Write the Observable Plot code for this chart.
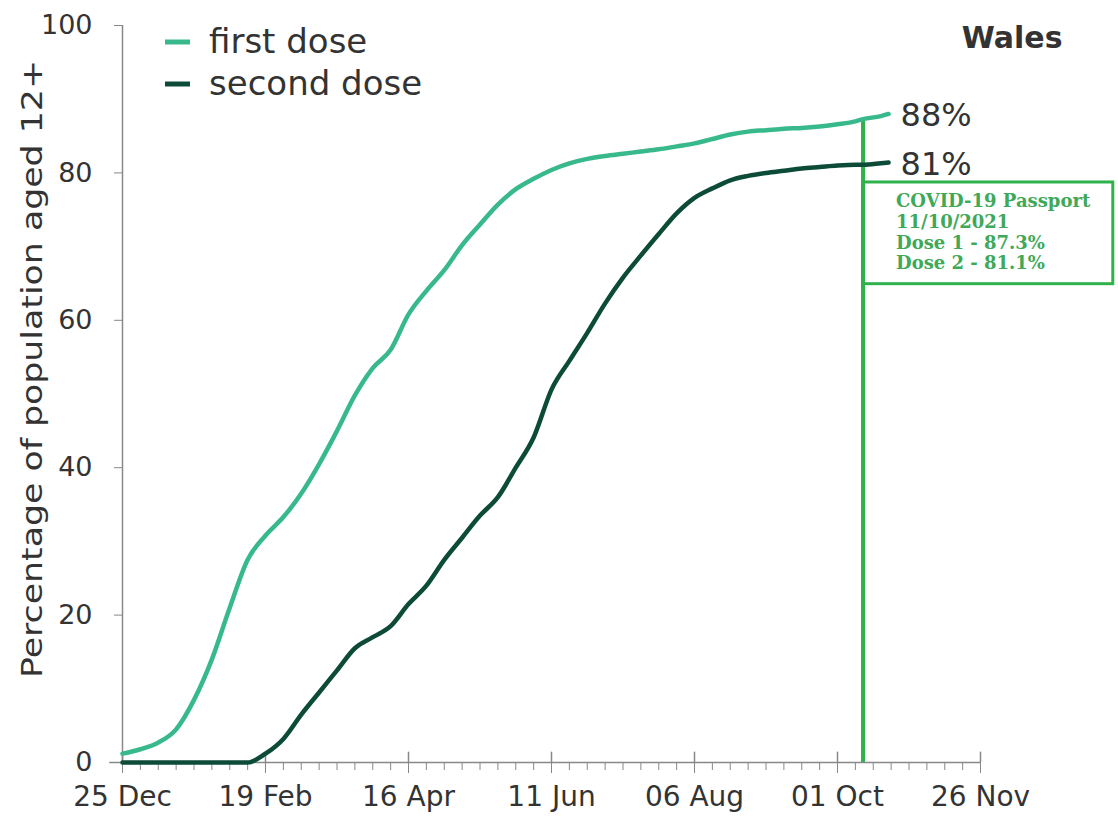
<!DOCTYPE html>
<html>
<head>
<meta charset="utf-8">
<script src="https://cdn.jsdelivr.net/npm/d3@7"></script>
<script src="https://cdn.jsdelivr.net/npm/@observablehq/plot@0.6"></script>
<style>
  html, body { margin: 0; padding: 0; background: #fff; }
  #chart { position: relative; width: 1118px; height: 818px; }
</style>
</head>
<body>
<div id="chart"></div>
<script>
// ---- data ----
const startDate = "2020-12-25";
const endDate = "2021-11-26";
const passportDate = "2021-10-11";
const days = [0,7,14,21,28,35,42,49,56,63,70,77,84,91,98,105,112,119,126,133,140,147,154,161,168,175,182,189,196,203,210,217,224,231,238,245,252,259,266,273,280,287,290,297,300];
const firstDose = [1.2,1.8,2.7,4.5,8.5,14,21,27.5,30.8,33.3,36.5,40.5,45,49.8,53.5,56,60.8,64,66.8,70.2,73,75.7,77.8,79.2,80.4,81.3,81.9,82.3,82.6,82.9,83.2,83.6,84,84.6,85.2,85.6,85.8,86,86.1,86.3,86.6,87,87.3,87.7,88];
const secondDose = [0,0,0,0,0,0,0,0,1.2,3.2,6.5,9.5,12.5,15.5,17,18.5,21.5,24,27.5,30.5,33.5,36,40,44.1,50.6,54.5,58.3,62.3,65.8,68.8,71.7,74.5,76.6,77.9,79,79.6,80,80.3,80.6,80.8,81,81.1,81.1,81.3,81.4];
const seriesNames = ["first dose", "second dose"];
const endLabels = ["88%", "81%"];
const yTicks = [0, 20, 40, 60, 80, 100];
const xTickLabels = ["25 Dec", "19 Feb", "16 Apr", "11 Jun", "06 Aug", "01 Oct", "26 Nov"];
const passportText = ["COVID-19 Passport", "11/10/2021", "Dose 1 - 87.3%", "Dose 2 - 81.1%"];
const passportBox = [64.9, 78.7];
const regionTitle = "Wales";
const yLabel = "Percentage of population aged 12+";

// ---- derived ----
const start = new Date(startDate + "T00:00:00Z");
const end = new Date(endDate + "T00:00:00Z");
const passport = new Date(passportDate + "T00:00:00Z");
const dates = days.map(d => d3.utcDay.offset(start, d));
const rows = [];
dates.forEach((dt, i) => {
  rows.push({date: dt, value: firstDose[i], series: seriesNames[0]});
  rows.push({date: dt, value: secondDose[i], series: seriesNames[1]});
});
const majorTicks = xTickLabels.map((_, i) => d3.utcDay.offset(start, i * 56));
const minorTicks = d3.range(0, 337, 7).map(d => d3.utcDay.offset(start, d));
const colors = ["#38b98c", "#0d4b39"];
const green = "#2fb24c";
const lastRows = [
  {date: dates[dates.length - 1], value: firstDose[firstDose.length - 1], label: endLabels[0]},
  {date: dates[dates.length - 1], value: secondDose[secondDose.length - 1], label: endLabels[1]}
];
const pIdx = days.indexOf(290);
const FONT = "'DejaVu Sans', sans-serif";

const plot = Plot.plot({
  width: 1118,
  height: 818,
  marginLeft: 122,
  marginRight: 138,
  marginTop: 25,
  marginBottom: 56,
  style: {fontFamily: FONT, fontSize: "26px", color: "#333", background: "#fff"},
  x: {type: "utc", domain: [start, end], axis: null},
  y: {domain: [0, 100], axis: null},
  color: {domain: seriesNames, range: colors},
  marks: [
    // y axis
    Plot.ruleX([start], {y1: 0, y2: 100, stroke: "#888", strokeWidth: 1.5}),
    Plot.axisY({ticks: yTicks, tickSize: 8, tickPadding: 22, stroke: "#888", fill: "#333", fontSize: 27, label: null}),
    // x axis
    Plot.ruleY([0], {x1: d3.utcDay.offset(start, -5), x2: end, stroke: "#888", strokeWidth: 1.5}),
    Plot.axisX({ticks: minorTicks, tickSize: 8, text: null, stroke: "#888", label: null}),
    Plot.axisX({ticks: majorTicks, tickSize: 11, tickPadding: 13, stroke: "#888", fill: "#333", fontSize: 28,
      tickFormat: (d) => xTickLabels[majorTicks.findIndex(t => +t === +d)], label: null}),
    Plot.ruleX(majorTicks, {y1: 0, y2: 1.4, stroke: "#888", strokeWidth: 1.5}),
    // passport marker
    Plot.ruleX([passport], {y1: 0, y2: firstDose[pIdx], stroke: green, strokeWidth: 4}),
    Plot.rect([0], {x1: passport, x2: d3.utcDay.offset(start, 388), y1: passportBox[0], y2: passportBox[1],
      stroke: green, strokeWidth: 3, fill: "none"}),
    Plot.text([passportText.join("\n")], {x: passport, y: passportBox[1], dx: 33, dy: 10, textAnchor: "start", lineAnchor: "top",
      lineHeight: 1.15, fontFamily: "'DejaVu Serif', serif", fontWeight: "bold", fontSize: 18, fill: "#3fa957"}),
    // lines
    Plot.line(rows, {x: "date", y: "value", z: "series", stroke: "series", strokeWidth: 4.5, curve: "monotone-x",
      strokeLinejoin: "round", strokeLinecap: "round"}),
    // end labels
    Plot.text(lastRows, {x: "date", y: "value", text: "label", dx: 12, dy: 2, textAnchor: "start", fontSize: 32, fill: "#333"}),
    // title
    Plot.text([regionTitle], {frameAnchor: "top-right", dx: 82, dy: 13, textAnchor: "end", lineAnchor: "middle", fontSize: 30, fontWeight: "bold", fill: "#333"})
  ]
});

const svg = d3.select(plot);
// y-axis label
svg.append("text")
  .attr("transform", "translate(32,369) rotate(-90)")
  .attr("text-anchor", "middle").attr("dy", "0.35em")
  .attr("font-family", FONT).attr("font-size", 29).attr("fill", "#333")
  .attr("textLength", 618).attr("lengthAdjust", "spacingAndGlyphs")
  .text(yLabel);
// legend (swatches + names), top-left
const lg = svg.append("g").attr("font-family", FONT).attr("font-size", 34).attr("fill", "#333").attr("text-anchor", "start");
seriesNames.forEach((name, i) => {
  const cy = 42 + i * 42;
  lg.append("line").attr("x1", 165).attr("x2", 190).attr("y1", cy).attr("y2", cy)
    .attr("stroke", colors[i]).attr("stroke-width", 5);
  lg.append("text").attr("x", 209).attr("y", cy).attr("dy", "0.32em").text(name);
});

document.getElementById("chart").appendChild(plot);
</script>
</body>
</html>
